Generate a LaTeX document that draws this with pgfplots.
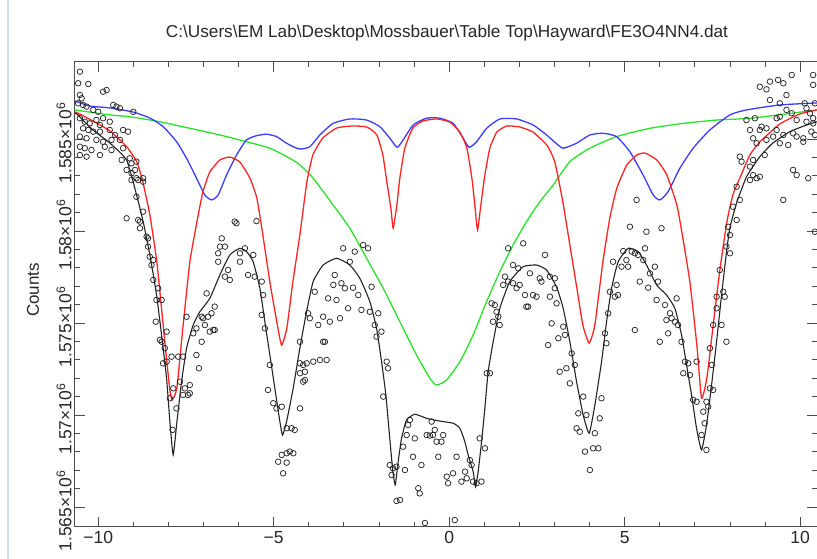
\documentclass[border=0pt]{standalone}
\usepackage{fontspec}
\setmainfont{Liberation Sans}
\usepackage{pgfplots}
\pgfplotsset{compat=1.18}
\definecolor{fitred}{RGB}{255,35,35}
\definecolor{fitblue}{RGB}{60,60,255}
\definecolor{fitgreen}{RGB}{40,228,40}
\definecolor{fitblack}{RGB}{35,35,35}
\definecolor{edgeblue}{RGB}{200,220,242}
\begin{document}
\begin{tikzpicture}[x=1pt,y=1pt]
\useasboundingbox (-75,-32.3) rectangle (742,526.7);
\draw[edgeblue, line width=1.2pt] (-67,-32.3) -- (-67,526.7);
\begin{axis}[
  at={(0,0)}, anchor=south west,
  scale only axis, width=742pt, height=465pt,
  xmin=-10.66, xmax=10.48, ymin=1563929, ymax=1589202,
  xtick={-10,-5,0,5,10},
  xticklabels={−10,−5,0,5,10},
  minor x tick num=4,
  ytick={1565000,1570000,1575000,1580000,1585000},
  yticklabels={1.565×10\textsuperscript{6},1.57×10\textsuperscript{6},1.575×10\textsuperscript{6},1.58×10\textsuperscript{6},1.585×10\textsuperscript{6}},
  minor y tick num=4,
  scaled y ticks=false, scaled x ticks=false,
  major tick length=10pt, minor tick length=5pt,
  every tick/.style={black!70, line width=0.9pt},
  axis line style={black!70, line width=1pt},
  ticklabel style={font=\fontsize{17.5}{19}\selectfont, text=black!85},
  xticklabel style={yshift=-1pt},
  yticklabel style={rotate=90, anchor=south, xshift=-4pt},
]
\addplot[only marks, mark=o, mark size=2.8pt, black!85, mark options={line width=0.75pt}] table {
-10.52 1588660
-10.57 1588030
-10.28 1587990
-9.86 1587570
-9.76 1587660
-10.52 1587390
-10.47 1587210
-10.57 1586940
-10.43 1586850
-10.33 1586760
-10.14 1586580
-10.00 1586480
-9.57 1586850
-9.48 1586760
-9.38 1586670
-9.00 1586480
-10.52 1586130
-10.38 1585940
-10.24 1585850
-10.05 1586030
-9.86 1586130
-9.95 1585760
-9.67 1585940
-10.43 1585580
-10.28 1585490
-10.14 1585400
-9.95 1585400
-9.67 1585490
-9.52 1585220
-9.29 1585490
-9.15 1585400
-10.52 1585130
-10.33 1585040
-10.05 1584950
-9.86 1584850
-9.62 1584950
-9.38 1584950
-9.29 1584500
-10.52 1584580
-10.38 1584500
-10.19 1584400
-9.81 1584580
-9.62 1584400
-10.52 1584130
-10.33 1584040
-9.95 1584130
-9.10 1583950
-9.33 1583860
-9.19 1583320
-9.05 1583140
-8.72 1582870
-8.91 1582870
-9.19 1580690
-8.86 1580600
-8.81 1580150
-8.62 1579690
-8.58 1579150
-8.53 1578600
-8.43 1578420
-8.43 1577340
-8.29 1576890
-8.34 1576250
-8.19 1576250
-9.05 1583680
-8.95 1583320
-8.91 1583770
-9.05 1582770
-8.86 1582770
-8.72 1582680
-8.91 1581860
-8.72 1581050
-8.81 1580510
-8.58 1579600
-8.48 1578150
-8.36 1575070
-8.19 1573980
-8.10 1573630
-8.05 1572900
-8.15 1572810
-7.91 1573170
-7.72 1573170
-7.58 1573170
-7.86 1571450
-7.67 1571810
-7.53 1571450
-7.58 1571090
-7.39 1571630
-7.39 1571180
-7.77 1570360
-7.88 1569190
-7.48 1575340
-7.29 1574440
-7.20 1574710
-7.05 1575340
-7.20 1573260
-7.13 1572540
-7.05 1573980
-6.96 1574890
-6.91 1576610
-6.87 1575340
-6.82 1574530
-6.77 1575530
-6.72 1574620
-6.68 1575890
-6.58 1578330
-6.58 1578790
-6.53 1579150
-6.48 1579600
-6.39 1579150
-6.39 1577520
-6.30 1577880
-6.25 1577340
-6.11 1580510
-6.06 1580420
-5.49 1580540
-5.96 1578790
-5.96 1578330
-5.82 1579060
-5.73 1577610
-5.58 1578700
-5.54 1577520
-5.34 1577250
-5.30 1576520
-5.34 1575440
-5.25 1574710
-5.11 1572720
-5.16 1571360
-5.01 1570640
-4.92 1570360
-4.77 1570450
-4.63 1569280
-4.49 1569280
-4.40 1569190
-4.25 1570360
-4.16 1572720
-4.16 1571810
-4.11 1572350
-4.87 1567460
-4.77 1567830
-4.63 1567920
-4.54 1568010
-4.44 1567920
-4.73 1566830
-8.05 1574530
-8.24 1574080
-7.44 1571090
-7.96 1570910
-7.01 1575260
-6.68 1574620
-4.63 1567410
-4.25 1572810
-4.06 1572810
-3.87 1572900
-3.49 1572990
-3.54 1573980
-4.11 1571900
-4.02 1575530
-3.97 1575260
-3.73 1574890
-3.59 1575340
-3.40 1575070
-3.11 1575260
-2.88 1575800
-3.21 1576250
-4.25 1573980
-4.25 1572270
-3.68 1572990
-3.59 1573980
-3.83 1576700
-3.45 1576340
-3.30 1577070
-3.26 1577610
-3.07 1577160
-2.97 1576890
-2.74 1576920
-2.83 1578330
-3.02 1579060
-2.69 1578880
-2.45 1579240
-2.31 1579060
-2.59 1576520
-2.50 1575710
-2.26 1575610
-2.21 1576970
-2.02 1575530
-2.12 1574890
-1.93 1574530
-2.07 1574260
-1.78 1572900
-1.74 1572540
-1.88 1571000
-1.69 1567280
-1.60 1567100
-1.50 1567190
-1.64 1566740
-1.40 1565380
-1.50 1565330
-1.31 1568280
-1.26 1567010
-1.17 1569460
-1.12 1569730
-1.21 1568910
-0.98 1568730
-1.03 1567730
-0.79 1567280
-0.64 1568910
-0.55 1568880
-0.46 1568910
-0.41 1569190
-0.36 1568550
-0.22 1568550
-0.17 1568910
-0.50 1569640
-0.88 1566020
-0.84 1565740
-0.31 1567730
-0.07 1566650
-0.03 1566290
0.11 1566830
0.21 1567730
0.35 1566380
0.45 1566920
0.50 1566560
0.59 1567550
0.64 1567280
0.68 1566380
0.78 1566290
0.92 1566380
0.87 1568730
1.02 1568190
1.07 1572270
1.16 1572270
1.25 1575070
1.21 1576070
1.35 1575610
1.40 1575340
1.44 1574890
1.30 1575980
1.54 1577070
1.59 1577520
1.68 1577250
1.68 1579060
1.82 1578150
1.97 1577970
1.82 1577160
1.92 1576890
2.01 1577070
2.11 1579330
2.30 1577700
2.16 1576520
2.25 1575890
2.39 1576520
2.49 1576430
2.58 1577430
2.63 1577250
2.73 1578700
2.87 1576430
2.92 1574980
2.82 1573800
3.06 1576070
3.01 1576890
3.11 1574170
3.15 1572350
-0.69 1564130
0.16 1564290
2.87 1577520
3.01 1577430
3.25 1574800
3.30 1574350
3.49 1573350
3.58 1572720
3.34 1572540
3.44 1571720
3.82 1571000
4.34 1570910
3.68 1570090
3.91 1570000
4.29 1569820
3.63 1569280
3.72 1569090
4.15 1569010
3.87 1568010
4.10 1568190
4.25 1568190
4.01 1567010
4.44 1574440
4.48 1573900
4.53 1575530
4.58 1576700
4.72 1576430
4.77 1577070
4.81 1576520
4.67 1578330
4.91 1578060
5.05 1578420
5.10 1578060
4.96 1578910
5.20 1578880
5.29 1578790
5.38 1578700
5.53 1578420
5.15 1580230
5.34 1581690
5.62 1579960
5.58 1579060
6.05 1580150
5.86 1578060
5.72 1577700
5.95 1577250
5.43 1577250
5.67 1576920
5.29 1574620
5.91 1576250
6.15 1575980
6.48 1576340
6.29 1575530
6.34 1575260
6.43 1575070
6.52 1574890
6.19 1575160
6.24 1574440
6.00 1573980
6.62 1573980
6.72 1572900
6.81 1572810
7.05 1572900
6.67 1572270
6.86 1572170
6.95 1570820
7.05 1570720
7.33 1570720
7.24 1570180
7.38 1570450
7.28 1569550
7.19 1568910
7.33 1568100
7.43 1571450
7.52 1571360
7.48 1572720
7.43 1573630
7.52 1574890
7.62 1575800
7.71 1577880
7.81 1576700
7.85 1576430
7.76 1574890
7.90 1573980
7.62 1576430
2.20 1575890
9.76 1588480
9.52 1588030
9.14 1588120
8.85 1587840
9.04 1587700
9.37 1588210
10.37 1588480
10.37 1587940
9.61 1587390
9.14 1587120
9.42 1586940
10.13 1586940
10.42 1586940
10.18 1586670
10.28 1586400
9.61 1586580
9.76 1586400
9.42 1586210
9.33 1586130
10.37 1586130
9.90 1586030
10.18 1585940
10.37 1585850
8.47 1586030
8.71 1586130
8.90 1585670
8.85 1585490
9.04 1585580
9.33 1585490
9.23 1585130
9.52 1585220
9.80 1585310
9.90 1585130
10.09 1585040
10.32 1585400
10.42 1585220
10.09 1584850
8.57 1585490
8.66 1585040
8.76 1584770
9.04 1584950
9.42 1584770
9.66 1584670
8.99 1584130
8.66 1583860
8.28 1584040
8.33 1583770
8.57 1583500
8.66 1583040
8.76 1582870
8.85 1582950
8.57 1582770
8.19 1582410
8.28 1581690
8.09 1581320
8.19 1580600
7.95 1580230
8.00 1579780
7.90 1579150
8.00 1578790
9.80 1583320
9.90 1583040
10.23 1582870
9.52 1581690
10.42 1579960
};
\addplot[fitgreen, line width=1.3pt, smooth, tension=0.35] table {
-10.664 1586580
-9.667 1586310
-9.097 1586210
-8.242 1585940
-7.387 1585580
-6.533 1585220
-5.772 1584850
-5.108 1584500
-4.538 1583950
-4.254 1583590
-3.875 1582870
-3.305 1581410
-2.829 1580150
-2.353 1578520
-1.880 1576890
-1.405 1575070
-0.929 1573260
-0.550 1572000
-0.359 1571630
-0.074 1571900
0.305 1572900
0.684 1574350
1.066 1576160
1.444 1577790
1.823 1579240
2.205 1580510
2.584 1581590
2.963 1582500
3.439 1583770
4.009 1584500
4.769 1585130
5.718 1585580
6.667 1585850
7.618 1586030
8.652 1586140
10.476 1586580
};
\addplot[fitblue, line width=1.3pt, smooth, tension=0.35] table {
-10.664 1587070
-10.236 1586790
-9.667 1586690
-9.011 1586470
-8.527 1586140
-8.148 1585670
-7.766 1584850
-7.481 1583950
-7.197 1582870
-6.960 1581960
-6.769 1581690
-6.581 1581960
-6.342 1583040
-6.057 1584130
-5.772 1584950
-5.487 1585180
-5.202 1585260
-4.917 1585130
-4.632 1584770
-4.348 1584500
-4.205 1584460
-3.969 1584580
-3.684 1585220
-3.305 1585850
-2.829 1586090
-2.353 1586030
-1.974 1585670
-1.689 1585040
-1.481 1584550
-1.311 1584950
-1.026 1585760
-0.644 1586130
-0.265 1586130
0.114 1585850
0.399 1585040
0.570 1584550
0.781 1584850
1.066 1585580
1.444 1586090
1.920 1586090
2.393 1585760
2.775 1585220
3.040 1584780
3.248 1584500
3.630 1584770
4.009 1585220
4.387 1585310
4.769 1585130
5.148 1584310
5.527 1583040
5.812 1581960
6.003 1581690
6.239 1582140
6.573 1583410
6.952 1584500
7.427 1585490
7.997 1586310
8.473 1586580
9.422 1586850
10.476 1586960
};
\addplot[fitred, line width=1.3pt, smooth, tension=0.3] table {
-10.664 1586470
-10.578 1586410
-10.151 1585980
-9.667 1585440
-9.182 1584570
-8.897 1583750
-8.726 1582660
-8.527 1580870
-8.328 1578320
-8.185 1575600
-8.043 1572880
-7.957 1571360
-7.892 1570820
-7.758 1571470
-7.587 1574730
-7.387 1578320
-7.188 1580490
-7.017 1582120
-6.818 1583210
-6.533 1583860
-6.248 1584020
-5.963 1583750
-5.678 1582880
-5.479 1581790
-5.308 1579780
-5.108 1577230
-4.909 1575050
-4.775 1573800
-4.624 1574730
-4.453 1577230
-4.254 1579780
-4.054 1582660
-3.883 1584130
-3.598 1585060
-3.199 1585600
-2.744 1585710
-2.345 1585650
-2.060 1585220
-1.889 1584130
-1.775 1582660
-1.661 1581250
-1.595 1580160
-1.490 1581410
-1.405 1582880
-1.262 1584510
-1.034 1585600
-0.749 1585980
-0.350 1586090
0.020 1585920
0.305 1585380
0.504 1584510
0.647 1582880
0.732 1581410
0.809 1580060
0.903 1581410
1.017 1583040
1.160 1584510
1.359 1585380
1.644 1585710
2.014 1585650
2.385 1585380
2.783 1584670
3.011 1583750
3.239 1581580
3.439 1579240
3.638 1576900
3.809 1574890
3.989 1573910
4.151 1574890
4.379 1578320
4.578 1580710
4.778 1582340
5.063 1583590
5.348 1584130
5.575 1584240
5.917 1583860
6.202 1583040
6.487 1581410
6.658 1579620
6.858 1577230
7.057 1573800
7.191 1570920
7.342 1572010
7.513 1574730
7.712 1577880
7.912 1580490
8.083 1581960
8.282 1582880
8.567 1584130
8.852 1584840
9.422 1585820
9.991 1586360
10.476 1586580
};
\addplot[fitblack, line width=1.1pt, smooth, tension=0.3] table {
-10.664 1586410
-10.578 1586310
-10.151 1585490
-9.667 1584780
-9.191 1583860
-8.906 1581960
-8.718 1580510
-8.527 1578700
-8.336 1576520
-8.194 1574350
-8.051 1572000
-7.957 1569640
-7.863 1567830
-7.766 1569460
-7.624 1571810
-7.481 1573630
-7.293 1574890
-7.103 1575610
-6.818 1576340
-6.533 1577610
-6.248 1578700
-5.963 1579060
-5.772 1578880
-5.584 1578330
-5.393 1576890
-5.251 1575070
-5.108 1573260
-4.966 1571450
-4.823 1569640
-4.746 1568910
-4.632 1569640
-4.444 1571450
-4.254 1573630
-4.063 1575610
-3.875 1577250
-3.590 1578150
-3.208 1578520
-2.829 1578150
-2.544 1577430
-2.259 1576160
-2.068 1574710
-1.926 1572900
-1.803 1571090
-1.709 1569090
-1.613 1567100
-1.538 1566200
-1.453 1567460
-1.356 1568730
-1.214 1569730
-0.977 1570040
-0.644 1569820
-0.265 1569670
0.114 1569550
0.305 1569280
0.447 1568550
0.541 1567830
0.684 1566920
0.752 1566100
0.826 1566920
0.923 1568550
1.017 1570360
1.111 1572350
1.254 1573980
1.444 1575800
1.729 1577250
2.108 1578060
2.490 1578150
2.775 1577880
3.060 1576960
3.248 1575800
3.439 1573980
3.630 1571810
3.818 1570000
3.989 1569010
4.151 1570540
4.342 1572900
4.484 1575070
4.627 1576890
4.815 1578330
5.100 1579060
5.385 1578880
5.624 1578150
5.909 1577070
6.194 1576520
6.430 1575800
6.621 1574350
6.764 1572720
6.906 1571090
7.048 1569280
7.191 1568100
7.333 1569460
7.476 1571630
7.618 1573980
7.761 1576520
7.903 1578880
7.997 1580150
8.188 1581520
8.473 1582950
8.852 1584040
9.222 1584780
9.707 1585400
10.182 1585760
10.476 1585940
};
\end{axis}
\node[font=\fontsize{17.2}{20}\selectfont, text=black!85] at (372,493.5) {C:\textbackslash Users\textbackslash EM Lab\textbackslash Desktop\textbackslash Mossbauer\textbackslash Table Top\textbackslash Hayward\textbackslash FE3O4NN4.dat};
\node[rotate=90, font=\fontsize{17}{20}\selectfont, text=black!85] at (-42,236.7) {Counts};
\end{tikzpicture}
\end{document}
